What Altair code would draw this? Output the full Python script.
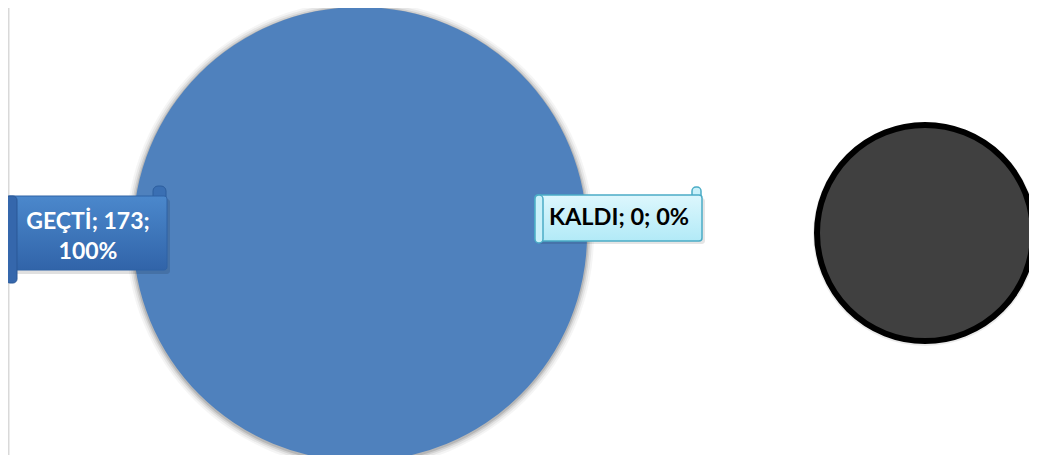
import altair as alt
import pandas as pd
import numpy as np

# ---- data ----
categories = ["GEÇTİ", "KALDI"]
counts = [173, 0]
percents = ["100%", "0%"]
slice_colors = ["#4F81BD", "#C0504D"]

W, H = 1021, 447
FONT = "Lato"

pie_df = pd.DataFrame({"cat": categories, "n": counts})

pie = alt.Chart(pie_df).mark_arc(radius=227, stroke=None).encode(
    theta=alt.Theta("n:Q", stack=True),
    color=alt.Color("cat:N", scale=alt.Scale(domain=categories, range=slice_colors), legend=None),
    order=alt.Order("cat:N"),
    x=alt.value(352),
    y=alt.value(226),
)

one = pd.DataFrame({"k": [1]})

# soft shadow rings around the pie
shadows = []
for r, op in [(234, 0.04), (232, 0.06), (230, 0.09), (228.5, 0.12)]:
    shadows.append(
        alt.Chart(one).mark_arc(
            radius=r, theta=0, theta2=2 * np.pi, color="#000000", opacity=op
        ).encode(x=alt.value(352), y=alt.value(227))
    )

# right dark circle
circ_shadow = alt.Chart(one).mark_arc(
    radius=112, theta=0, theta2=2 * np.pi, color="#000000", opacity=0.08
).encode(x=alt.value(917), y=alt.value(226))
circle = alt.Chart(one).mark_arc(
    radius=108, theta=0, theta2=2 * np.pi, fill="#404040", stroke="#000000", strokeWidth=6
).encode(x=alt.value(917), y=alt.value(225))

# left border line
border = alt.Chart(one).mark_rule(color="#D9D9D9", strokeWidth=2).encode(
    x=alt.value(0.5), y=alt.value(0), y2=alt.value(H)
)

blue_grad = alt.LinearGradient(
    gradient="linear",
    stops=[alt.GradientStop(color="#4B88CC", offset=0), alt.GradientStop(color="#3164A9", offset=1)],
    x1=0, x2=0, y1=0, y2=1,
)
cyan_grad = alt.LinearGradient(
    gradient="linear",
    stops=[alt.GradientStop(color="#DDF7FD", offset=0), alt.GradientStop(color="#B2EAF7", offset=1)],
    x1=0, x2=0, y1=0, y2=1,
)

def rect(x1, x2, y1, y2, fill, stroke, sw=1, cr=3, op=1.0):
    kw = dict(fill=fill, strokeWidth=sw, cornerRadius=cr, opacity=op)
    if stroke is not None:
        kw["stroke"] = stroke
    return alt.Chart(one).mark_rect(**kw).encode(
        x=alt.value(x1), x2=alt.value(x2), y=alt.value(y1), y2=alt.value(y2)
    )

# GEÇTİ scroll label
g_shadow = rect(0, 162, 191, 266, "#000000", None, 0, 3, 0.12)
g_curl_tr = rect(145, 158, 178, 194, "#3A6FB3", "#2D5E9E", 1, 5)
g_box = rect(-2, 159, 188, 262, blue_grad, "#2F62A5", 1, 3)
g_curl_l = rect(-2, 9, 188, 275, "#3567AC", "#2A5897", 1, 4)

# KALDI scroll label
k_shadow = rect(530, 697, 190, 236, "#000000", None, 0, 3, 0.10)
k_curl_tr = rect(684, 693, 179, 191, "#C9F1FA", "#4BACC6", 1.5, 4)
k_box = rect(527, 694, 187, 233, cyan_grad, "#4BACC6", 1.5, 3)
k_curl_l = rect(527, 535, 187, 235, "#C9F1FA", "#4BACC6", 1.5, 4)

label_df = pd.DataFrame({
    "cat": categories,
    "txt": [f"{categories[0]}; {counts[0]};\n{percents[0]}", f"{categories[1]}; {counts[1]}; {percents[1]}"],
})

g_text = alt.Chart(label_df.iloc[[0]]).mark_text(
    font=FONT, fontSize=23, fontWeight="bold", color="#FFFFFF", lineBreak="\n",
    lineHeight=30, align="center", baseline="middle"
).encode(text="txt:N", x=alt.value(80), y=alt.value(214))

k_text = alt.Chart(label_df.iloc[[1]]).mark_text(
    font=FONT, fontSize=23.5, fontWeight="bold", color="#000000",
    align="center", baseline="middle"
).encode(text="txt:N", x=alt.value(611), y=alt.value(210))

chart = alt.layer(
    border, *shadows, pie, circ_shadow, circle,
    g_shadow, g_curl_tr, g_box, g_curl_l, g_text,
    k_shadow, k_curl_tr, k_box, k_curl_l, k_text,
).properties(
    width=W, height=H, padding=0, autosize=alt.AutoSizeParams(type="none")
).configure(background="#FFFFFF", view=alt.ViewConfig(stroke=None))

chart.save("out.html", embed_options={"renderer": "svg", "actions": False})
